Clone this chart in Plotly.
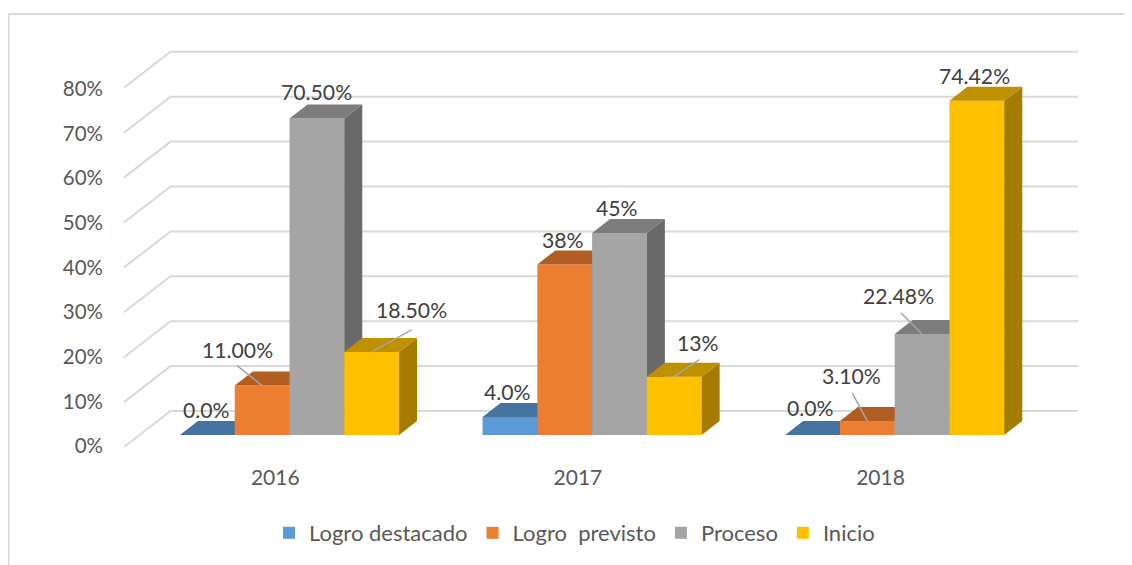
import plotly.graph_objects as go

# ---- data ----
years = ["2016", "2017", "2018"]
series_names = ["Logro destacado", "Logro  previsto", "Proceso", "Inicio"]
logro_destacado = [0.0, 4.0, 0.0]
logro_previsto = [11.0, 38.0, 3.10]
proceso = [70.5, 45.0, 22.48]
inicio = [18.5, 13.0, 74.42]
label_destacado = ["0.0%", "4.0%", "0.0%"]
label_previsto = ["11.00%", "38%", "3.10%"]
label_proceso = ["70.50%", "45%", "22.48%"]
label_inicio = ["18.50%", "13%", "74.42%"]
y_ticks = [0, 10, 20, 30, 40, 50, 60, 70, 80]

# ---- styles ----
front_colors = ["#5B9BD5", "#ED7D31", "#A5A5A5", "#FFC000"]
top_colors = ["#44749F", "#B25D22", "#7C7C7C", "#BF9000"]
side_colors = ["#3B6690", "#9C5222", "#696969", "#A67C00"]
GRID = "#D9D9D9"
FONT = "Lato"

# geometry; the page has an 8 px body margin, so figure px = page px - 8
OFF = 8
W, H = 1132 - OFF, 565 - OFF
PL, PB = 104 - OFF, 463 - OFF   # plot area left and bottom
PX_UNIT = 302.6                 # px per category
PX_VAL = 4.49                   # px per percentage point
x_zero_px, y_zero_px = 275.3 - OFF, 435.0 - OFF
xr = [(PL - x_zero_px) / PX_UNIT, (W - x_zero_px) / PX_UNIT]
yr = [(y_zero_px - PB) / PX_VAL, y_zero_px / PX_VAL]

BAR_W = 54.77 / PX_UNIT
SHIFT = 14.2 / PX_UNIT
DX, DY = 18 / PX_UNIT, 14 / PX_VAL          # bar depth
WALL_L = -0.5
WALL_DX = 46.5 / PX_UNIT
FRONT_Y, BACK_Y = -12 / PX_VAL, 24 / PX_VAL  # wall offsets

series = [logro_destacado, logro_previsto, proceso, inicio]
labels = [label_destacado, label_previsto, label_proceso, label_inicio]

# label offset from top centre of bar front, px (per series, per year)
label_off = [
    [(-1, -25), (-2, -25), (-2.5, -27)],
    [(-25, -36), (-2, -24), (-16, -45)],
    [(0, -26.5), (-2, -25), (-24, -38)],
    [(40, -42), (24, -34), (-2, -25)],
]
# leader tail offset from same point, px
leader_off = [
    [None, None, None],
    [(-25, -20), None, (-15, -28)],
    [None, None, (-21, -21)],
    [(40, -22), (25, -17), None],
]

fig = go.Figure()

# walls' grid lines
gx, gy = [], []
for v in y_ticks:
    gx += [WALL_L, WALL_L + WALL_DX, WALL_L + WALL_DX + 3, None]
    gy += [v + FRONT_Y, v + BACK_Y, v + BACK_Y, None]
fig.add_trace(go.Scatter(x=gx, y=gy, mode="lines", line=dict(color=GRID, width=2),
                         hoverinfo="skip", showlegend=False))

annotations = []
lead_x, lead_y = [], []
for i, (vals, name) in enumerate(zip(series, series_names)):
    ax, ay = f"x{i + 2}", f"y{i + 2}"
    xs = [c + SHIFT + (i - 1.5) * BAR_W for c in range(3)]
    fig.add_trace(go.Bar(x=xs, y=vals, width=BAR_W, name=name, xaxis=ax, yaxis=ay,
                         marker=dict(color=front_colors[i], line=dict(width=0))))
    tx, ty, sx, sy = [], [], [], []
    for j, (c, v) in enumerate(zip(xs, vals)):
        l, r = c - BAR_W / 2, c + BAR_W / 2
        tx += [l, r, r + DX, l + DX, l, None]
        ty += [v, v, v + DY, v + DY, v, None]
        sx += [r, r + DX, r + DX, r, r, None]
        sy += [0, DY, v + DY, v, 0, None]
        off = label_off[i][j]
        annotations.append(dict(x=c, y=v, xref="x", yref="y", text=labels[i][j],
                                showarrow=False, xshift=off[0], yshift=-off[1],
                                font=dict(family=FONT, size=21.2, color="#404040")))
        tail = leader_off[i][j]
        if tail:
            lead_x += [c, c + tail[0] / PX_UNIT, None]
            lead_y += [v, v - tail[1] / PX_VAL, None]
    fig.add_trace(go.Scatter(x=sx, y=sy, mode="lines", fill="toself", fillcolor=side_colors[i],
                             line=dict(width=0), xaxis=ax, yaxis=ay,
                             hoverinfo="skip", showlegend=False))
    fig.add_trace(go.Scatter(x=tx, y=ty, mode="lines", fill="toself", fillcolor=top_colors[i],
                             line=dict(width=0), xaxis=ax, yaxis=ay,
                             hoverinfo="skip", showlegend=False))

fig.add_trace(go.Scatter(x=lead_x, y=lead_y, mode="lines", line=dict(color="#A6A6A6", width=1.5),
                         xaxis="x5", yaxis="y5", hoverinfo="skip", showlegend=False))

FX, FY = 0.5, 14 - OFF   # chart frame, figure px
layout = dict(
    width=W, height=H, paper_bgcolor="white", plot_bgcolor="white",
    margin=dict(l=PL, r=0, t=0, b=H - PB, autoexpand=False),
    barmode="overlay", annotations=annotations,
    font=dict(family=FONT, size=21, color="#595959"),
    xaxis=dict(range=xr, tickvals=[0, 1, 2], ticktext=years, showgrid=False, zeroline=False,
               showline=False, ticks="", tickfont=dict(size=21, color="#595959")),
    yaxis=dict(range=yr, tickvals=[v * 0.994 - 2.45 for v in y_ticks],
               ticktext=[f"{v}%" for v in y_ticks], showgrid=False, zeroline=False,
               showline=False, ticks="", tickfont=dict(size=20.5, color="#595959")),
    legend=dict(orientation="h", x=(261 - PL) / (W - PL), xanchor="left",
                y=(PB - 525) / PB, yanchor="middle", font=dict(size=22, color="#595959"),
                bgcolor="rgba(0,0,0,0)", traceorder="normal"),
    shapes=[
        dict(type="line", xref="paper", yref="paper", x0=(FX - PL) / (W - PL), x1=1,
             y0=(PB - FY) / PB, y1=(PB - FY) / PB, line=dict(color=GRID, width=2)),
        dict(type="line", xref="paper", yref="paper", x0=(FX - PL) / (W - PL), x1=(FX - PL) / (W - PL),
             y0=(PB - FY) / PB, y1=(PB - H) / PB, line=dict(color=GRID, width=2)),
    ],
)
for k in range(2, 6):
    layout[f"xaxis{k}"] = dict(range=xr, overlaying="x", visible=False)
    layout[f"yaxis{k}"] = dict(range=yr, overlaying="y", visible=False)
fig.update_layout(**layout)
fig.write_html("out.html")
